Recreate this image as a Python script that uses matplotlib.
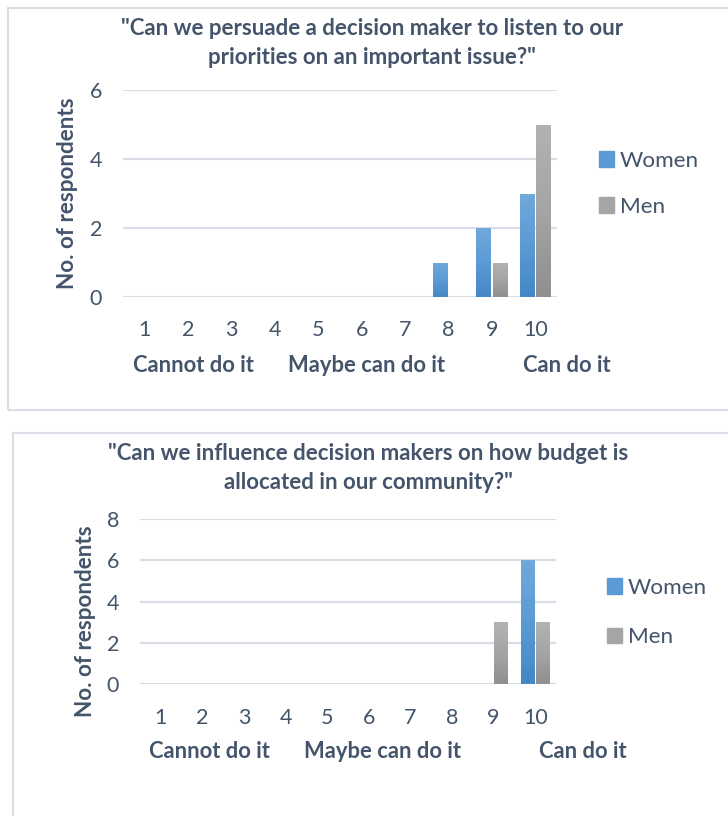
import matplotlib
matplotlib.use("Agg")
import matplotlib.pyplot as plt
import numpy as np
from matplotlib.patches import Rectangle
from matplotlib.colors import LinearSegmentedColormap

plt.rcParams['font.family'] = ['Lato', 'DejaVu Sans']

# ---------------- data ----------------
scale = [1, 2, 3, 4, 5, 6, 7, 8, 9, 10]
series = ["Women", "Men"]
persuade_women = [0, 0, 0, 0, 0, 0, 0, 1, 2, 3]
persuade_men = [0, 0, 0, 0, 0, 0, 0, 0, 1, 5]
budget_women = [0, 0, 0, 0, 0, 0, 0, 0, 0, 6]
budget_men = [0, 0, 0, 0, 0, 0, 0, 0, 3, 3]
title_top = '"Can we persuade a decision maker to listen to our\npriorities on an important issue?"'
title_bottom = '"Can we influence decision makers on how budget is\nallocated in our community?"'
ylabel = "No. of respondents"
scale_labels = ["Cannot do it", "Maybe can do it", "Can do it"]

W, H = 728, 816
fig = plt.figure(figsize=(W / 100, H / 100), dpi=100)

TXT = "#44546A"
GRID = "#D9DEE6"
BORDER = "#D9DEE6"

blue_cmap = LinearSegmentedColormap.from_list("b", ["#4586C6", "#5B9BD5", "#72A8DC"])
gray_cmap = LinearSegmentedColormap.from_list("g", ["#8F8F8F", "#A5A5A5", "#B2B2B2"])


def fx(px):
    return px / W


def fy(py):
    return 1 - py / H


# panel borders
fig.add_artist(Rectangle((fx(8), fy(410)), fx(740) - fx(8), fy(8) - fy(410),
                         transform=fig.transFigure, fill=False, edgecolor=BORDER, lw=1.5))
fig.add_artist(Rectangle((fx(13), fy(830)), fx(740) - fx(13), fy(433) - fy(830),
                         transform=fig.transFigure, fill=False, edgecolor=BORDER, lw=1.5))


def gradient_bars(ax, bars, cmap):
    grad = np.linspace(0, 1, 100).reshape(-1, 1)
    for b in bars:
        if b.get_height() <= 0:
            continue
        x0, y0 = b.get_x(), b.get_y()
        x1, y1 = x0 + b.get_width(), y0 + b.get_height()
        im = ax.imshow(grad, cmap=cmap, origin="lower", aspect="auto",
                       extent=(x0, x1, y0, y1), zorder=3)
        im.set_clip_path(b)
        b.set_facecolor("none")


def panel(left, right, top, bottom, ymax, women, men, title, title_y, title_x,
          ylab_x, ylab_y, scale_y, scale_xs, leg_x, leg_y, leg_sp, xpad,
          width, off_w, off_m):
    ax = fig.add_axes([fx(left), fy(bottom), fx(right) - fx(left), fy(top) - fy(bottom)])
    x = np.array(scale, dtype=float)
    bw = ax.bar(x + off_w, women, width=width, color="#5B9BD5", zorder=3, label=series[0])
    bm = ax.bar(x + off_m, men, width=width, color="#A5A5A5", zorder=3, label=series[1])
    gradient_bars(ax, bw, blue_cmap)
    gradient_bars(ax, bm, gray_cmap)
    ax.set_xlim(0.5, 10.5)
    ax.set_ylim(0, ymax)
    ax.set_yticks(np.arange(0, ymax + 1, 2))
    ax.set_xticks(x)
    ax.set_xticklabels([str(s) for s in scale])
    ax.yaxis.grid(True, color=GRID, lw=1.6, zorder=0)
    ax.set_axisbelow(True)
    for s in ax.spines.values():
        s.set_visible(False)
    ax.tick_params(axis="both", length=0, colors=TXT, labelsize=15.5)
    ax.tick_params(axis="y", pad=15)
    ax.tick_params(axis="x", pad=xpad)
    fig.text(fx(title_x), fy(title_y), title, ha="center", va="center", fontsize=16,
             fontweight="bold", color=TXT, linespacing=1.5)
    fig.text(fx(ylab_x), fy(ylab_y), ylabel, rotation=90, ha="center", va="center",
             fontsize=16.2, fontweight="bold", color=TXT)
    for lab, sx in zip(scale_labels, scale_xs):
        fig.text(fx(sx), fy(scale_y), lab, ha="center", va="center", fontsize=15.8,
                 fontweight="bold", color=TXT)
    handles = [Rectangle((0, 0), 1, 1, color="#5B9BD5"), Rectangle((0, 0), 1, 1, color="#A5A5A5")]
    fig.legend(handles, series, loc="upper left", bbox_to_anchor=(fx(leg_x), fy(leg_y)),
               frameon=False, fontsize=16.2, labelcolor=TXT, handlelength=0.68,
               handleheight=0.68, handletextpad=0.25, labelspacing=leg_sp, borderpad=0,
               borderaxespad=0)
    return ax


panel(123, 557, 90, 297, 6, persuade_women, persuade_men, title_top, 43, 372,
      68, 193, 365, [193, 366, 567], 599, 151, 1.15, 16.5, 0.34, -0.19, 0.19)
panel(140, 556, 519, 684, 8, budget_women, budget_men, title_bottom, 468, 368,
      86, 621, 752, [209, 383, 583], 607, 578, 1.3, 17, 0.33, -0.18, 0.18)

fig.savefig("out.png", dpi=100)
